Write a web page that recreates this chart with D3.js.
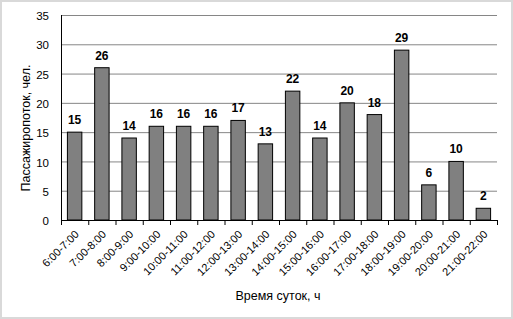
<!DOCTYPE html>
<html>
<head>
<meta charset="utf-8">
<script src="https://cdn.jsdelivr.net/npm/d3@7"></script>
<style>
  body { margin: 0; background: #fff; }
  text { font-family: "Liberation Sans", Arial, sans-serif; }
</style>
</head>
<body>
<svg id="chart" width="513" height="319"></svg>
<script>
// time slots and passenger counts
const slots = ['6:00-7:00', '7:00-8:00', '8:00-9:00', '9:00-10:00', '10:00-11:00',
  '11:00-12:00', '12:00-13:00', '13:00-14:00', '14:00-15:00', '15:00-16:00',
  '16:00-17:00', '17:00-18:00', '18:00-19:00', '19:00-20:00', '20:00-21:00', '21:00-22:00'];
const passengers = [15, 26, 14, 16, 16, 16, 17, 13, 22, 14, 20, 18, 29, 6, 10, 2];
const yTicks = [0, 5, 10, 15, 20, 25, 30, 35];

const svg = d3.select('#chart');

// outer frame
svg.append('rect')
  .attr('x', 1).attr('y', 1)
  .attr('width', 511).attr('height', 317)
  .attr('fill', '#fff')
  .attr('stroke', '#d9d9d9')
  .attr('stroke-width', 2);

const plotLeft = 61, plotRight = 497, plotTop = 15, plotBottom = 220;

const x = d3.scaleBand()
  .domain(slots)
  .range([plotLeft, plotRight])
  .paddingInner(0.47)
  .paddingOuter(0.235);

const y = d3.scaleLinear()
  .domain([0, 35])
  .range([plotBottom, plotTop]);

// gridlines
svg.append('g')
  .selectAll('line')
  .data(yTicks.filter(d => d > 0))
  .enter()
  .append('line')
    .attr('x1', plotLeft).attr('x2', plotRight)
    .attr('y1', d => y(d) + 0.5).attr('y2', d => y(d) + 0.5)
    .attr('stroke', '#868686')
    .attr('stroke-width', 1);

// y axis
const yAxis = svg.append('g')
  .attr('transform', `translate(${plotLeft},1)`)
  .call(d3.axisLeft(y).tickValues(yTicks).tickSize(0).tickPadding(12));
yAxis.select('.domain').remove();
yAxis.selectAll('text')
  .attr('font-size', 11.5)
  .attr('fill', '#000')
  .style('font-family', '"Liberation Sans", Arial, sans-serif');

svg.append('line')
  .attr('x1', plotLeft + 0.5).attr('x2', plotLeft + 0.5)
  .attr('y1', plotTop).attr('y2', plotBottom)
  .attr('stroke', '#000');

// bars
svg.append('g')
  .selectAll('rect')
  .data(passengers)
  .enter()
  .append('rect')
    .attr('x', (d, i) => x(slots[i]))
    .attr('y', d => y(d))
    .attr('width', x.bandwidth())
    .attr('height', d => y(0) - y(d))
    .attr('fill', '#808080')
    .attr('stroke', '#000')
    .attr('stroke-width', 1);

// value labels
svg.append('g')
  .selectAll('text')
  .data(passengers)
  .enter()
  .append('text')
    .attr('x', (d, i) => x(slots[i]) + x.bandwidth() / 2)
    .attr('y', d => y(d) - 8)
    .attr('text-anchor', 'middle')
    .attr('font-size', 12)
    .attr('font-weight', 'bold')
    .text(d => d);

// x axis
const xAxis = svg.append('g')
  .attr('transform', `translate(0,${plotBottom})`)
  .call(d3.axisBottom(x).tickSize(0));
xAxis.select('.domain').remove();
xAxis.selectAll('.tick text')
  .attr('font-size', 11)
  .attr('fill', '#000')
  .style('font-family', '"Liberation Sans", Arial, sans-serif')
  .attr('text-anchor', 'end')
  .attr('dx', 0)
  .attr('dy', 0)
  .attr('y', 0)
  .attr('transform', 'translate(5,15) rotate(-45)');

svg.append('line')
  .attr('x1', plotLeft).attr('x2', plotRight)
  .attr('y1', plotBottom + 0.5).attr('y2', plotBottom + 0.5)
  .attr('stroke', '#000');

// tick marks between categories
svg.append('g')
  .selectAll('line')
  .data(d3.range(slots.length + 1))
  .enter()
  .append('line')
    .attr('x1', i => plotLeft + i * x.step() + 0.5)
    .attr('x2', i => plotLeft + i * x.step() + 0.5)
    .attr('y1', plotBottom).attr('y2', plotBottom + 5)
    .attr('stroke', '#000');

// axis titles
svg.append('text')
  .attr('x', 278).attr('y', 300)
  .attr('text-anchor', 'middle')
  .attr('font-size', 12.5)
  .text('Время суток, ч');

svg.append('text')
  .attr('transform', 'translate(30,128) rotate(-90)')
  .attr('text-anchor', 'middle')
  .attr('font-size', 12.5)
  .text('Пассажиропоток, чел.');
</script>
</body>
</html>
